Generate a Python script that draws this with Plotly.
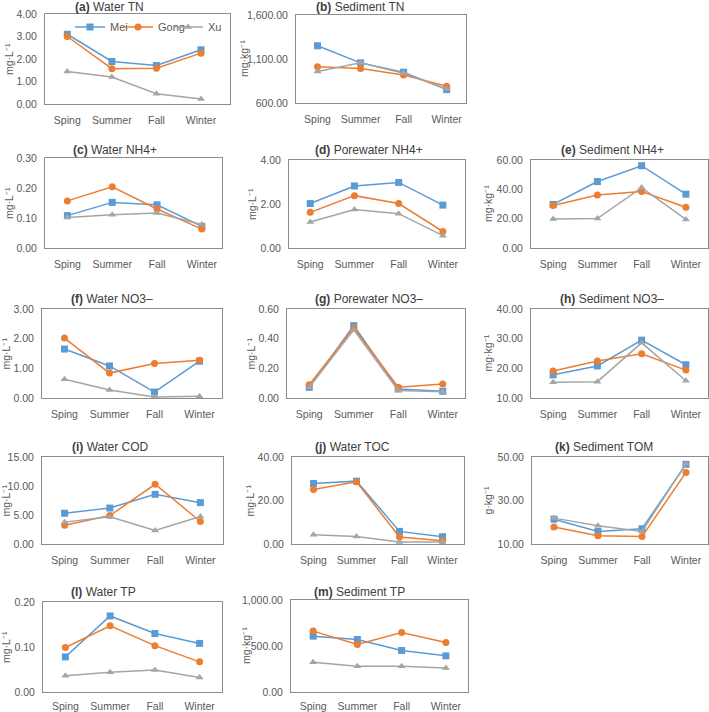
import plotly.graph_objects as go

seasons = ["Sping", "Summer", "Fall", "Winter"]
series_names = ["Mei", "Gong", "Xu"]

a_mei = [3.10, 1.89, 1.71, 2.41]
a_gong = [3.00, 1.57, 1.59, 2.26]
a_xu = [1.44, 1.20, 0.46, 0.22]

b_mei = [1250, 1056, 950, 752]
b_gong = [1011, 992, 919, 790]
b_xu = [957, 1056, 938, 760]

c_mei = [0.108, 0.152, 0.144, 0.072]
c_gong = [0.157, 0.204, 0.130, 0.063]
c_xu = [0.102, 0.111, 0.117, 0.078]

d_mei = [2.02, 2.82, 2.98, 1.95]
d_gong = [1.62, 2.38, 2.02, 0.75]
d_xu = [1.18, 1.75, 1.56, 0.56]

e_mei = [29.7, 45.3, 56.1, 36.7]
e_gong = [29.0, 36.2, 38.5, 27.8]
e_xu = [19.7, 20.1, 41.2, 19.5]

f_mei = [1.65, 1.08, 0.20, 1.24]
f_gong = [2.02, 0.84, 1.16, 1.27]
f_xu = [0.63, 0.27, 0.03, 0.06]

g_mei = [0.072, 0.488, 0.061, 0.045]
g_gong = [0.090, 0.472, 0.072, 0.094]
g_xu = [0.072, 0.460, 0.050, 0.042]

h_mei = [17.8, 20.8, 29.5, 21.2]
h_gong = [19.1, 22.5, 24.9, 19.4]
h_xu = [15.3, 15.5, 28.6, 15.8]

i_mei = [5.3, 6.2, 8.56, 7.13]
i_gong = [3.25, 4.9, 10.3, 3.88]
i_xu = [3.77, 4.68, 2.34, 4.73]

j_mei = [27.8, 28.9, 5.8, 3.35]
j_gong = [25.1, 28.6, 3.2, 1.5]
j_xu = [4.26, 3.5, 0.9, 0.9]

k_mei = [21.4, 15.8, 17.0, 46.65]
k_gong = [17.8, 13.8, 13.4, 42.9]
k_xu = [21.9, 18.4, 15.8, 46.95]

l_mei = [0.078, 0.169, 0.130, 0.108]
l_gong = [0.099, 0.147, 0.103, 0.067]
l_xu = [0.036, 0.044, 0.049, 0.032]

m_mei = [607, 571, 451, 393]
m_gong = [662, 516, 647, 538]
m_xu = [324, 280, 280, 262]

panel_letters = ["a", "b", "c", "d", "e", "f", "g", "h", "i", "j", "k", "l", "m"]
panel_titles = ["Water TN", "Sediment TN", "Water NH4+", "Porewater NH4+", "Sediment NH4+",
                "Water NO3\u2013", "Porewater NO3\u2013", "Sediment NO3\u2013",
                "Water COD", "Water TOC", "Sediment TOM", "Water TP", "Sediment TP"]
panel_units = ["mg\u00b7L\u207b\u00b9", "mg\u00b7kg\u207b\u00b9", "mg\u00b7L\u207b\u00b9", "mg\u00b7L\u207b\u00b9",
               "mg\u00b7kg\u207b\u00b9", "mg\u00b7L\u207b\u00b9", "mg\u00b7L\u207b\u00b9", "mg\u00b7kg\u207b\u00b9",
               "mg\u00b7L\u207b\u00b9", "mg\u00b7L\u207b\u00b9", "g\u00b7kg\u207b\u00b9", "mg\u00b7L\u207b\u00b9",
               "mg\u00b7kg\u207b\u00b9"]
y_ranges = [[0, 4], [600, 1600], [0, 0.3], [0, 4], [0, 60], [0, 3], [0, 0.6], [10, 40],
            [0, 15], [0, 40], [10, 50], [0, 0.2], [0, 1000]]
y_dticks = [1, 500, 0.1, 2, 20, 1, 0.2, 10, 5, 20, 20, 0.1, 500]

data = {
    "a": (a_mei, a_gong, a_xu), "b": (b_mei, b_gong, b_xu), "c": (c_mei, c_gong, c_xu),
    "d": (d_mei, d_gong, d_xu), "e": (e_mei, e_gong, e_xu), "f": (f_mei, f_gong, f_xu),
    "g": (g_mei, g_gong, g_xu), "h": (h_mei, h_gong, h_xu), "i": (i_mei, i_gong, i_xu),
    "j": (j_mei, j_gong, j_xu), "k": (k_mei, k_gong, k_xu), "l": (l_mei, l_gong, l_xu),
    "m": (m_mei, m_gong, m_xu),
}

# geometry (pixels): box left, right, top, bottom ; x range ; title center x, y ; unit x
W, H = 709, 712
geom = {
    "a": dict(box=(45, 230, 14, 104), xr=(-0.5, 3.65), t=(109, 7), u=9),
    "b": dict(box=(296, 466, 15, 103), xr=(-0.5, 3.45), t=(360, 7), u=244),
    "c": dict(box=(45, 222, 158, 248), xr=(-0.5, 3.45), t=(115, 150), u=9),
    "d": dict(box=(289, 465, 160, 248), xr=(-0.48, 3.5), t=(369, 150), u=252),
    "e": dict(box=(531, 708, 160, 248), xr=(-0.5, 3.5), t=(612, 150), u=488),
    "f": dict(box=(42, 222, 309, 398), xr=(-0.5, 3.5), t=(112, 299), u=5),
    "g": dict(box=(287, 465, 309, 398), xr=(-0.5, 3.5), t=(369, 299), u=250),
    "h": dict(box=(531, 708, 309, 398), xr=(-0.5, 3.5), t=(612, 299), u=487),
    "i": dict(box=(42, 223, 457, 544), xr=(-0.5, 3.5), t=(110, 447), u=5),
    "j": dict(box=(292, 464, 457, 544), xr=(-0.5, 3.5), t=(352, 447), u=249),
    "k": dict(box=(532, 708, 457, 544), xr=(-0.5, 3.5), t=(604, 447), u=487),
    "l": dict(box=(43, 222, 602, 692), xr=(-0.5, 3.5), t=(103, 592), u=6),
    "m": dict(box=(291, 468, 600, 692), xr=(-0.5, 3.5), t=(359, 592), u=246),
}
legend_ids = ["legend", "legend2", "legend3"]
legend_x = [70, 118, 168]  # left pixel of each legend entry box

colors = ["#5B9BD5", "#ED7D31", "#A5A5A5"]
symbols = ["square", "circle", "triangle-up"]
FONT = "Liberation Sans, Arial, sans-serif"
TXT = "#595959"

fig = go.Figure()
layout = dict(
    template="none",
    width=W, height=H, margin=dict(l=0, r=0, t=0, b=0, pad=0, autoexpand=False),
    paper_bgcolor="white", plot_bgcolor="white",
    font=dict(family=FONT, size=11, color=TXT),
    showlegend=True,
)
for s in range(3):
    layout[legend_ids[s]] = dict(
        orientation="h", x=legend_x[s] / W, y=1 - 27 / H, xanchor="left", yanchor="middle",
        font=dict(size=11, color=TXT), bgcolor="rgba(0,0,0,0)", borderwidth=0,
        itemwidth=30,
    )
annotations = []

for idx, p in enumerate(panel_letters):
    n = idx + 1
    xa = "x" if n == 1 else f"x{n}"
    ya = "y" if n == 1 else f"y{n}"
    g = geom[p]
    l, r, t, b = g["box"]
    for s in range(3):
        fig.add_trace(go.Scatter(
            x=seasons, y=data[p][s], name=series_names[s], xaxis=xa, yaxis=ya,
            mode="lines+markers",
            line=dict(color=colors[s], width=1.5),
            marker=dict(symbol=symbols[s], size=7, color=colors[s]),
            showlegend=(p == "a"), legendgroup=series_names[s], legend=legend_ids[s],
        ))
    layout["xaxis" if n == 1 else f"xaxis{n}"] = dict(
        domain=[l / W, r / W], anchor=ya, type="category", range=list(g["xr"]),
        showgrid=False, zeroline=False, showline=True, mirror=True, automargin=False,
        linecolor="#8C8C8C", linewidth=1, ticks="",
        ticklabelstandoff=(4 if p in ("l", "m") else 6),
        tickfont=dict(size=10.5, color=TXT, family=FONT), fixedrange=True,
    )
    layout["yaxis" if n == 1 else f"yaxis{n}"] = dict(
        domain=[1 - b / H, 1 - t / H], anchor=xa, range=y_ranges[idx],
        tick0=y_ranges[idx][0], dtick=y_dticks[idx], tickformat=",.2f",
        showgrid=False, zeroline=False, showline=True, mirror=True, automargin=False,
        linecolor="#8C8C8C", linewidth=1, ticks="", ticklabelstandoff=5,
        tickfont=dict(size=10.5, color=TXT, family=FONT), fixedrange=True,
    )
    annotations.append(dict(
        x=g["t"][0] / W, y=1 - g["t"][1] / H, xref="paper", yref="paper",
        xanchor="center", yanchor="middle", showarrow=False,
        text=f"<b>({p})</b> {panel_titles[idx]}",
        font=dict(size=12, color="#404040", family=FONT),
    ))
    annotations.append(dict(
        x=g["u"] / W, y=1 - ((t + b) / 2) / H, xref="paper", yref="paper",
        xanchor="center", yanchor="middle", showarrow=False, textangle=-90,
        text=panel_units[idx], font=dict(size=10.5, color=TXT, family=FONT),
    ))

layout["annotations"] = annotations
fig.update_layout(**layout)
fig.write_html(
    "out.html",
    config={"displayModeBar": False},
    post_script="document.body.style.margin='0px';document.body.style.padding='0px';"
                "document.documentElement.style.overflow='hidden';",
)
